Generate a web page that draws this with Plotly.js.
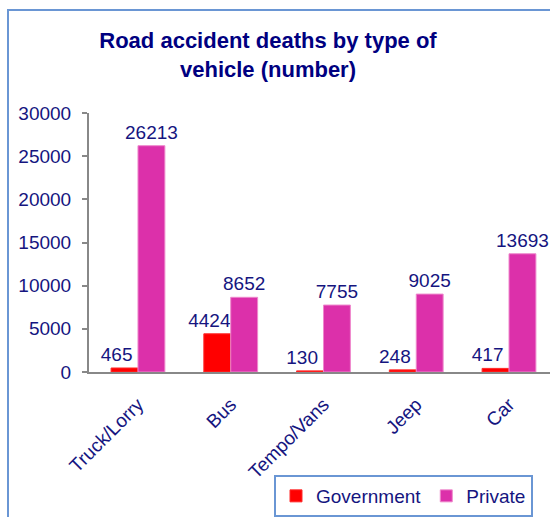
<!DOCTYPE html>
<html>
<head>
<meta charset="utf-8">
<script src="https://cdn.plot.ly/plotly-3.0.1.min.js"></script>
<style>
  html, body { margin:0; padding:0; background:#ffffff; }
  #wrap { position:relative; width:550px; height:517px; overflow:hidden; }
  #frame { position:absolute; left:7px; top:9px; width:700px; height:700px;
           border-left:2px solid #6a96d4; border-top:2px solid #6a96d4; }
  #chart { position:absolute; left:0; top:0; width:550px; height:517px; }
</style>
</head>
<body>
<div id="wrap">
  <div id="frame"></div>
  <div id="chart"></div>
</div>
<script>
const categories = ['Truck/Lorry', 'Bus', 'Tempo/Vans', 'Jeep', 'Car'];
const government = [465, 4424, 130, 248, 417];
const privateVals = [26213, 8652, 7755, 9025, 13693];
const yTicks = [0, 5000, 10000, 15000, 20000, 25000, 30000];

const FONT = 'Liberation Sans, Arial, sans-serif';
const NAVY = '#15157f';
const FS = 19;

const traces = [
  {
    type: 'bar', name: 'Government', x: categories, y: government,
    marker: { color: '#ff0000', line: { color: '#ff2a2a', width: 1 } },
    text: government.map(String),
    texttemplate: '%{text}\u00a0\u00a0\u00a0', textposition: 'outside', constraintext: 'none',
    cliponaxis: false, textfont: { family: FONT, size: FS, color: NAVY }
  },
  {
    type: 'bar', name: 'Private', x: categories, y: privateVals,
    marker: { color: '#dc30aa', line: { color: '#ee88cc', width: 1 } },
    text: privateVals.map(String),
    texttemplate: '%{text}', textposition: 'outside', constraintext: 'none',
    cliponaxis: false, textfont: { family: FONT, size: FS, color: NAVY }
  }
];

const layout = {
  width: 550, height: 517,
  paper_bgcolor: 'rgba(0,0,0,0)', plot_bgcolor: 'rgba(0,0,0,0)',
  margin: { l: 89, r: 0, t: 113, b: 145, pad: 0 },
  barmode: 'group', bargap: 0.42, bargroupgap: 0,
  font: { family: FONT, color: NAVY, size: FS },
  title: {
    text: 'Road accident deaths by type of<br>vehicle (number)',
    font: { family: FONT, size: 22, color: '#000080', weight: 'bold' },
    xref: 'container', x: 268 / 550, xanchor: 'center',
    yref: 'container', y: 1 - 48 / 517, yanchor: 'top'
  },
  xaxis: {
    type: 'category', range: [-0.528, 4.442],
    tickangle: -45, ticks: '', showgrid: false, zeroline: false,
    showline: true, linecolor: '#888888', linewidth: 2,
    ticklabelstandoff: 12,
    tickfont: { family: FONT, size: FS, color: NAVY }
  },
  yaxis: {
    range: [0, 30000], tickvals: yTicks, ticktext: yTicks.map(String),
    showgrid: false, zeroline: false,
    showline: true, linecolor: '#888888', linewidth: 2,
    ticks: 'outside', ticklen: 5, tickwidth: 2, tickcolor: '#888888',
    ticklabelstandoff: 7,
    tickfont: { family: FONT, size: FS, color: NAVY }
  },
  showlegend: true,
  legend: {
    orientation: 'h', xref: 'container', yref: 'container',
    x: 274 / 550, xanchor: 'left', y: 1 - 475 / 517, yanchor: 'top',
    bordercolor: '#6a96d4', borderwidth: 2, bgcolor: 'rgba(255,255,255,0)',
    font: { family: FONT, size: FS, color: NAVY },
    itemwidth: 30, traceorder: 'normal'
  }
};

Plotly.newPlot('chart', traces, layout, { displayModeBar: false, staticPlot: true });
</script>
</body>
</html>
